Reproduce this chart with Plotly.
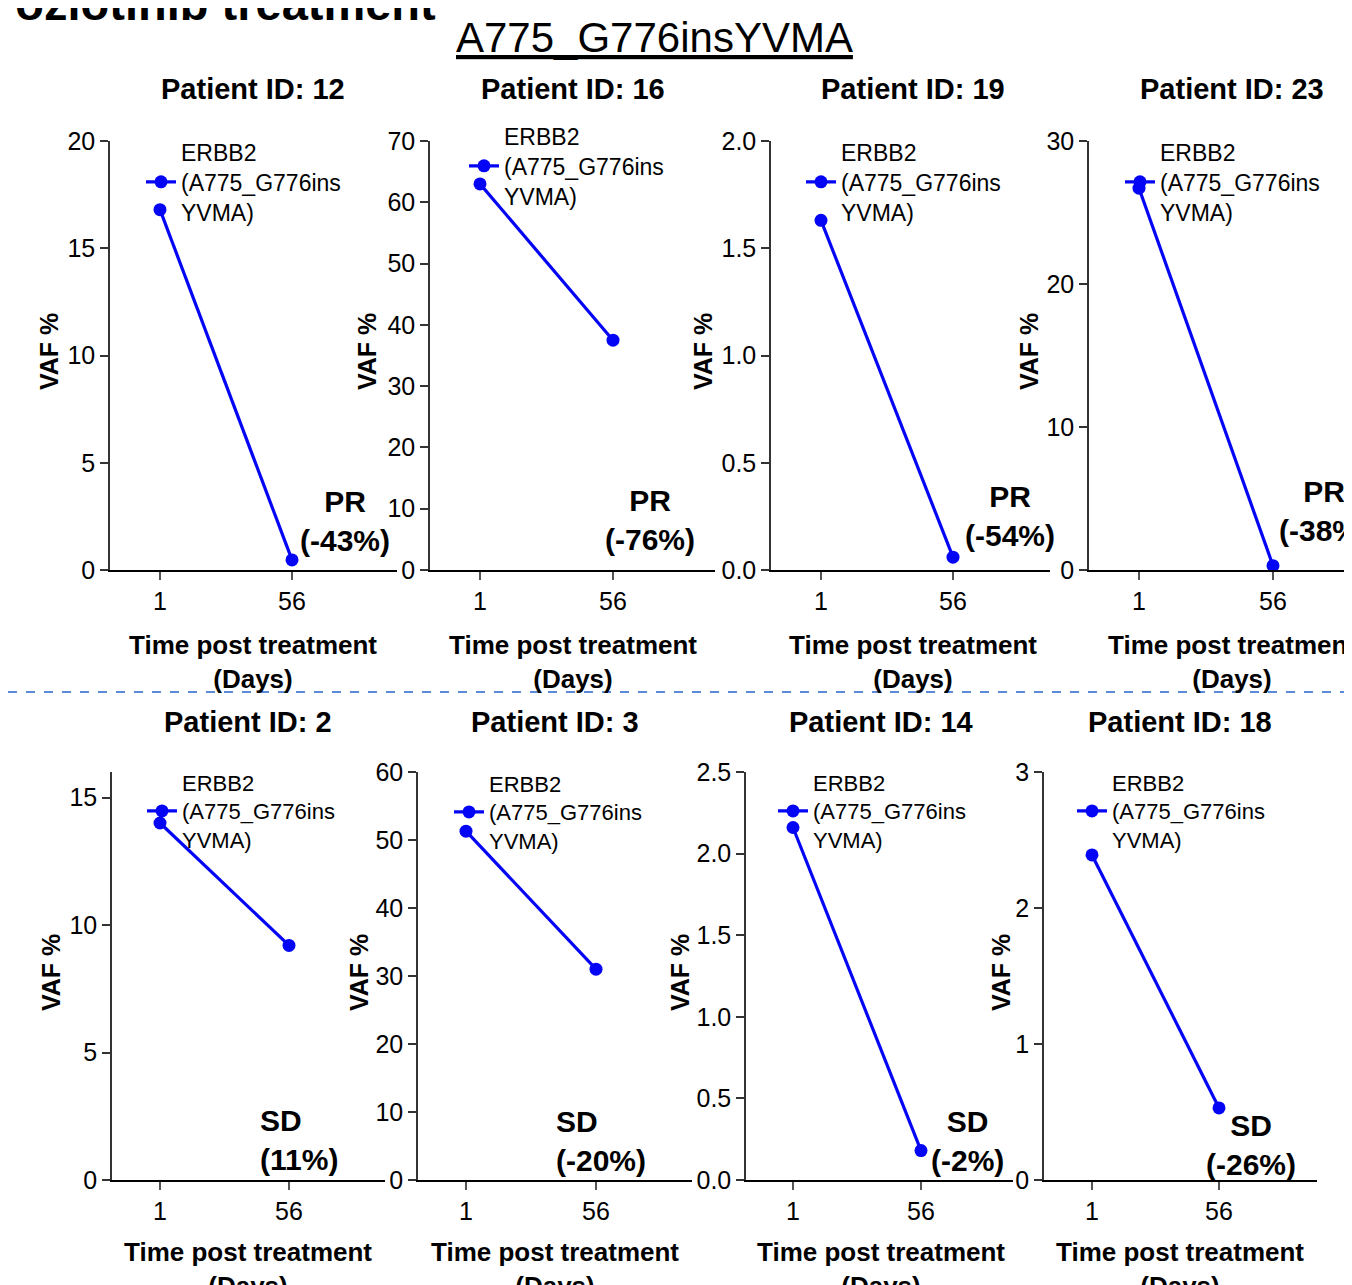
import plotly.graph_objects as go

W, H = 1352, 1285
OFF = 8  # page body margin of the viewer

def px(x):
    return (x - OFF) / W

def py(y):
    return 1 - (y - OFF) / H

# ---------------- data ----------------
days = ["1", "56"]
patient_ids = ["12", "16", "19", "23", "2", "3", "14", "18"]
vaf_p12 = [16.8, 0.47]
vaf_p16 = [63.0, 37.5]
vaf_p19 = [1.63, 0.06]
vaf_p23 = [26.7, 0.3]
vaf_p2 = [14.0, 9.2]
vaf_p3 = [51.3, 31.0]
vaf_p14 = [2.16, 0.18]
vaf_p18 = [2.39, 0.53]
series = [vaf_p12, vaf_p16, vaf_p19, vaf_p23, vaf_p2, vaf_p3, vaf_p14, vaf_p18]
response_type = ["PR", "PR", "PR", "PR", "SD", "SD", "SD", "SD"]
response_change = ["(-43%)", "(-76%)", "(-54%)", "(-38%)", "(11%)", "(-20%)", "(-2%)", "(-26%)"]
y_max = [20, 70, 2.0, 30, 16, 60, 2.5, 3]
y_dtick = [5, 10, 0.5, 10, 5, 10, 0.5, 1]
y_format = ["d", "d", ".1f", "d", "d", "d", ".1f", "d"]
series_name = "ERBB2<br>(A775_G776ins<br>YVMA)"
x_title_lines = ["Time post treatment", "(Days)"]
y_title = "VAF %"
mutation_title = "A775_G776insYVMA"
figure_title = "Poziotinib treatment"

# ---------------- layout geometry (page pixels) ----------------
x_geom = [
    (110, 397, 160, 292), (430, 715, 480, 613), (771, 1050, 821, 953), (1089, 1360, 1139, 1273),
    (112, 385, 160, 289), (418, 692, 466, 596), (746, 1013, 793, 921), (1044, 1317, 1092, 1219),
]
y_geom = [(141, 570)] * 4 + [(772, 1180)] * 4
legend_pos = [(183, 182), (506, 166), (843, 182), (1162, 182),
              (184, 811), (491, 812), (815, 811), (1114, 811)]
legend_font = [23, 23, 23, 23, 22, 22, 22, 22]
title_pos = [(253, 89), (573, 89), (913, 89), (1232, 89),
             (248, 722), (555, 722), (881, 722), (1180, 722)]
xtitle_pos = [(253, 662), (573, 662), (913, 662), (1232, 662),
              (248, 1269), (555, 1269), (881, 1269), (1180, 1269)]
ytitle_pos = [(49, 352), (367, 352), (703, 352), (1029, 352),
              (51, 973), (359, 973), (680, 973), (1001, 973)]
resp_pos = [(345, 521, "center"), (650, 520, "center"), (1010, 516, "center"), (1324, 511, "center"),
            (258, 1140, "left"), (554, 1141, "left"), (967, 1141, "center"), (1251, 1145, "center")]

FONT = "Arial, Liberation Sans, sans-serif"
BLUE = "#0505f5"

fig = go.Figure()
layout = dict(
    width=W, height=H, margin=dict(l=0, r=0, t=0, b=0, autoexpand=False),
    paper_bgcolor="white", plot_bgcolor="white",
    font=dict(family=FONT, color="black"),
    annotations=[], shapes=[],
)

def ann(text, x, y, size, **kw):
    d = dict(text=text, x=px(x), y=py(y), xref="paper", yref="paper",
             xanchor="center", yanchor="middle", showarrow=False,
             font=dict(size=size, family=FONT, color="black"))
    d.update(kw)
    return d

for i in range(8):
    n = "" if i == 0 else str(i + 1)
    x0, x1, t1, t2 = x_geom[i]
    yt, yb = y_geom[i]
    lg = "legend" + n
    fig.add_trace(go.Scatter(
        x=days, y=series[i], mode="lines+markers", name=series_name,
        line=dict(color=BLUE, width=3.2), marker=dict(color=BLUE, size=13),
        cliponaxis=False, xaxis="x" + n, yaxis="y" + n, legend=lg, showlegend=True,
    ))
    layout["xaxis" + n] = dict(
        domain=[max(px(x0), 0), min(px(x1), 1)], type="category",
        range=[(x0 - t1) / (t2 - t1), (min(x1, W + OFF) - t1) / (t2 - t1)],
        anchor="y" + n, showline=True, linecolor="black", linewidth=1.5,
        ticks="outside", ticklen=8, tickwidth=1.5, tickcolor="#555",
        showgrid=False, zeroline=False, automargin=False,
        tickfont=dict(size=25, family=FONT, color="black"),
    )
    layout["yaxis" + n] = dict(
        domain=[py(yb), py(yt)], range=[0, y_max[i]], dtick=y_dtick[i], tick0=0,
        tickformat=y_format[i], anchor="x" + n,
        showline=True, linecolor="#333", linewidth=1.5,
        ticks="outside", ticklen=8, tickwidth=1.5, tickcolor="#333",
        showgrid=False, zeroline=False, automargin=False,
        tickfont=dict(size=25, family=FONT, color="black"),
    )
    tx_left, sy = legend_pos[i]
    layout[lg] = dict(
        x=px(tx_left - 42), xanchor="left", y=py(sy), yanchor="middle",
        xref="container", yref="container",
        bgcolor="rgba(0,0,0,0)", borderwidth=0,
        font=dict(size=legend_font[i], family=FONT, color="black"),
        tracegroupgap=0, itemclick=False, itemdoubleclick=False,
    )
    tx, ty = title_pos[i]
    layout["annotations"].append(ann("<b>Patient ID: %s</b>" % patient_ids[i], tx, ty, 29))
    xx, xy = xtitle_pos[i]
    layout["annotations"].append(ann("<br>".join("<b>%s</b>" % s for s in x_title_lines), xx, xy, 26))
    vx, vy = ytitle_pos[i]
    layout["annotations"].append(ann("<b>%s</b>" % y_title, vx, vy, 25, textangle=-90))
    rx, ry, al = resp_pos[i]
    layout["annotations"].append(ann(
        "<b>%s</b><br><b>%s</b>" % (response_type[i], response_change[i]), rx, ry, 30,
        xanchor="center" if al == "center" else "left", align=al))

layout["annotations"].append(ann(
    mutation_title, 654, 37, 42,
    font=dict(size=42, family=FONT, color="black", lineposition="under")))
layout["annotations"].append(ann(
    "<b>%s</b>" % figure_title, 438, 3, 47, xanchor="right"))
layout["shapes"].append(dict(
    type="line", xref="paper", yref="paper", x0=0, x1=1, y0=py(692), y1=py(692),
    line=dict(color="#5b8bd8", width=2, dash="dash"),
))

fig.update_layout(**layout)
fig.write_html("out.html")
